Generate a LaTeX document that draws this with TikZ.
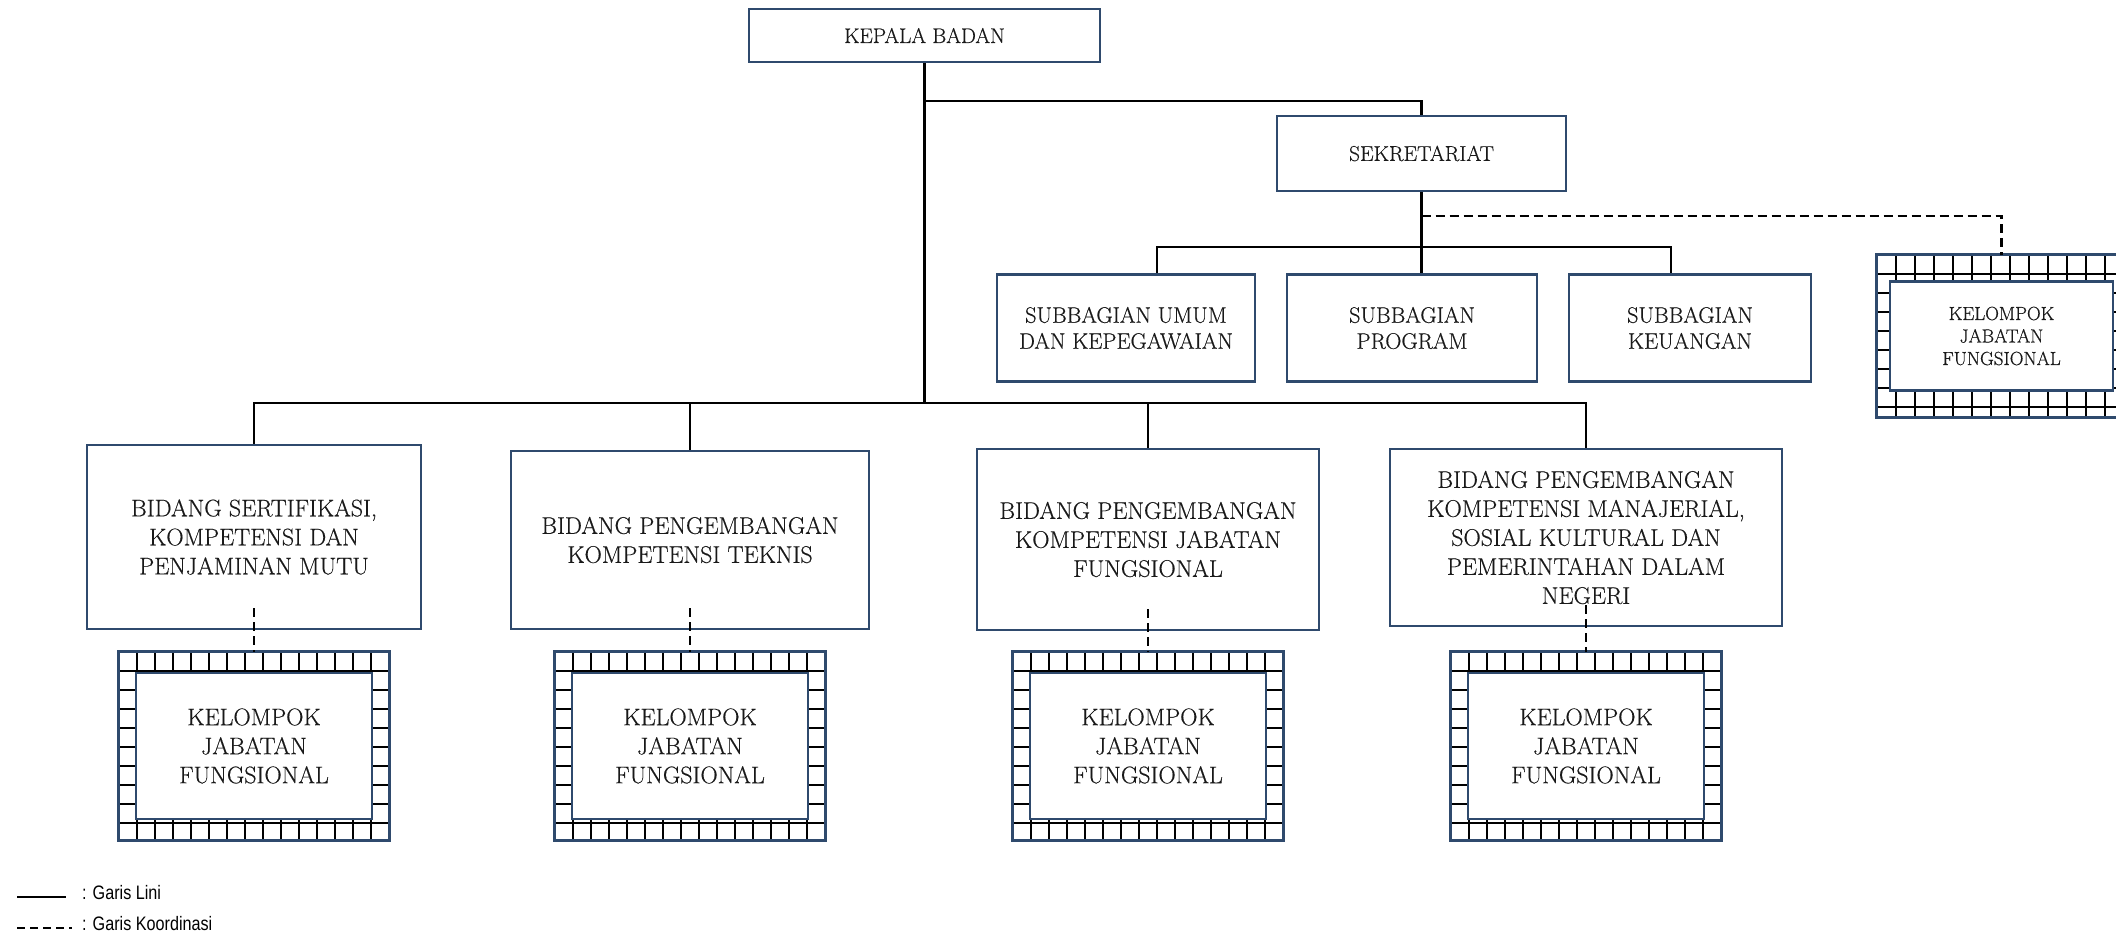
\documentclass[tikz,border=0pt]{standalone}
\usepackage{fontspec}
\setmainfont{Latin Modern Roman}[FakeBold=0.4]
\newfontfamily\legendfont[FakeStretch=0.83]{Liberation Sans}
\definecolor{boxblue}{HTML}{2F4A6D}
\def\kjfdx{18pt}
\def\kjfdy{19pt}
\tikzset{
  x=1pt, y=-1pt,
  conn/.style={line width=2.6pt, black},
  coord/.style={line width=2.4pt, black, dash pattern=on 9pt off 5pt},
  orgbox/.style={draw=boxblue, line width=2.6pt, fill=white, align=center, inner sep=4pt,
    text=black!90, font=\fontsize{24}{29}\selectfont},
  ob/.style 2 args={orgbox, minimum width=#1pt, minimum height=#2pt},
  subfont/.style={font=\fontsize{22.4}{26}\selectfont},
  kjfout/.style={draw=none, fill=white, inner sep=0pt},
  kjfin/.style={draw=boxblue, line width=2.6pt, fill=white, align=center, inner sep=2pt, text=black!90},
  gridl/.style={line width=1.8pt, black},
  kjfborder/.style={draw=boxblue, line width=3pt},
  legendtext/.style={anchor=mid west, inner sep=0pt, font=\legendfont\fontsize{19.5}{22}\selectfont}
}
\newcommand\kjfbox[8]{%
  \node[kjfout, minimum width=#4pt, minimum height=#5pt] (#1) at (#2,#3) {};
  \begin{scope}
    \clip (#1.south west) rectangle (#1.north east);
    \foreach \i in {1,...,20} \draw[gridl] ([xshift=\i*\kjfdx]#1.north west) -- ([xshift=\i*\kjfdx]#1.south west);
    \foreach \j in {1,...,12} \draw[gridl] ([yshift=-\j*\kjfdy]#1.north west) -- ([yshift=-\j*\kjfdy]#1.north east);
  \end{scope}
  \node[kjfin, minimum width=#6pt, minimum height=#7pt, font=#8] (#1in) at (#1) {KELOMPOK\\JABATAN\\FUNGSIONAL};
  \draw[kjfborder] (#1.south west) rectangle (#1.north east);
}
\begin{document}
\begin{tikzpicture}
\useasboundingbox[fill=white] (0,0) rectangle (2116,940);

% top level
\node[ob={351}{53}, font=\fontsize{21.2}{25}\selectfont] (KB) at (924.5,35.5) {KEPALA BADAN};
\node[ob={289}{75}, font=\fontsize{21.5}{25}\selectfont] (SEK) at (1421.5,153.5) {SEKRETARIAT};

% subbagian
\node[ob={258}{107}, subfont] (SU) at (1126,328) {SUBBAGIAN UMUM\\DAN KEPEGAWAIAN};
\node[ob={250}{107}, subfont] (SP) at (1412,328) {SUBBAGIAN\\PROGRAM};
\node[ob={242}{107}, subfont] (SK) at (1690,328) {SUBBAGIAN\\KEUANGAN};

% bidang
\node[ob={334}{184}] (B1) at (254,537) {BIDANG SERTIFIKASI,\\KOMPETENSI DAN\\PENJAMINAN MUTU};
\node[ob={358}{178}] (B2) at (690,540) {BIDANG PENGEMBANGAN\\KOMPETENSI TEKNIS};
\node[ob={342}{181}] (B3) at (1148,539.5) {BIDANG PENGEMBANGAN\\KOMPETENSI JABATAN\\FUNGSIONAL};
\node[ob={392}{177}] (B4) at (1586,537.5) {BIDANG PENGEMBANGAN\\KOMPETENSI MANAJERIAL,\\SOSIAL KULTURAL DAN\\PEMERINTAHAN DALAM\\NEGERI};

% kelompok jabatan fungsional
\kjfbox{K1}{254}{746}{270}{188}{236}{146}{\fontsize{24}{29}\selectfont}
\kjfbox{K2}{690}{746}{270}{188}{236}{146}{\fontsize{24}{29}\selectfont}
\kjfbox{K3}{1148}{746}{270}{188}{236}{146}{\fontsize{24}{29}\selectfont}
\kjfbox{K4}{1586}{746}{270}{188}{236}{146}{\fontsize{24}{29}\selectfont}
\def\kjfdx{19pt}
\def\kjfdy{19pt}
\kjfbox{KR}{2001.5}{336}{249}{162}{223}{109}{\fontsize{19}{22.5}\selectfont}

% helper coordinates
\coordinate (sekY) at (0,101);
\coordinate (busB) at (0,403);
\coordinate (subL) at (1157,247);
\coordinate (subR) at (1671,247);
\coordinate (dashY) at (0,216);

% garis lini
\draw[conn] (KB.south) -- (KB.south |- busB);
\draw[conn] (KB.south |- sekY) -| (SEK.north);
\draw[conn] (SEK.south) -- (SEK.south |- SP.north);
\draw[conn] (SU.north -| subL) -- (subL) -- (subR) -- (SK.north -| subR);
\draw[conn] (B1.north) -- (B1.north |- busB) -- (B4.north |- busB) -- (B4.north);
\draw[conn] (B2.north) -- (B2.north |- busB);
\draw[conn] (B3.north) -- (B3.north |- busB);

% garis koordinasi
\draw[coord] (SEK.south |- dashY) -| (KR.north);
\draw[coord] ([yshift=22pt]B1.south) -- (K1.north);
\draw[coord] ([yshift=22pt]B2.south) -- (K2.north);
\draw[coord] ([yshift=22pt]B3.south) -- (K3.north);
\draw[coord] ([yshift=22pt]B4.south) -- (K4.north);

% legend
\coordinate (la1) at (17,897);
\coordinate (la2) at (66,897);
\coordinate (lb1) at (17,928);
\coordinate (lb2) at (72,928);
\draw[line width=2pt] (la1) -- (la2);
\draw[line width=2pt, dash pattern=on 8pt off 5pt] (lb1) -- (lb2);
\node[legendtext] (lt1) at (82,897) {: Garis Lini};
\node[legendtext] (lt2) at (82,928) {: Garis Koordinasi};
\end{tikzpicture}
\end{document}
